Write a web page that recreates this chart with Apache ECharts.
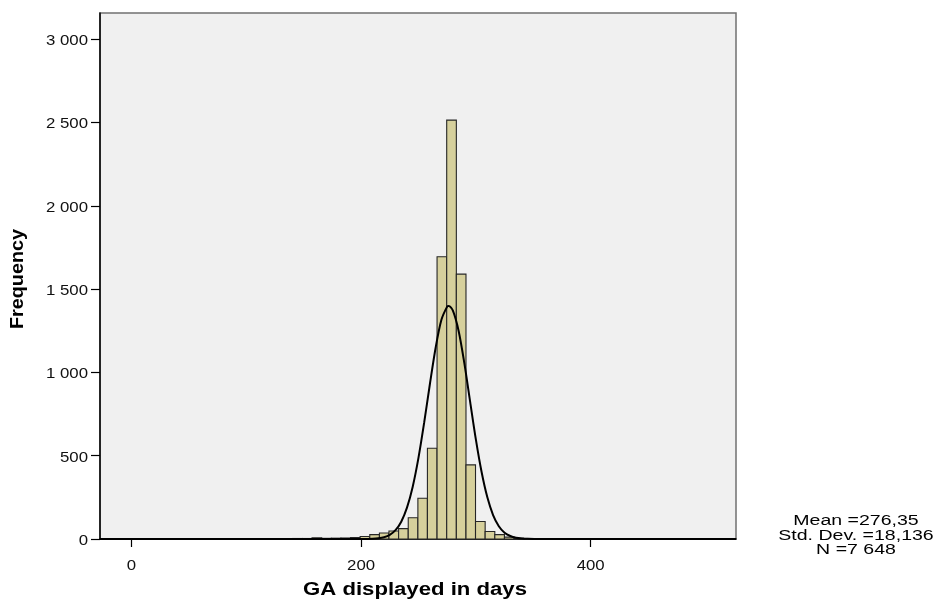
<!DOCTYPE html>
<html>
<head>
<meta charset="utf-8">
<script src="https://cdn.jsdelivr.net/npm/echarts@6/dist/echarts.min.js"></script>
<style>
html,body{margin:0;padding:0;background:#fff;}
#chart{width:938px;height:606px;}
</style>
</head>
<body>
<div id="chart"></div>
<script>
// Histogram bin edges (days) and counts per bin
const binEdges = [56.7, 65.1, 73.5, 81.9, 90.2, 98.6, 107.0, 115.4, 123.8, 132.1, 140.5, 148.9,
  157.3, 165.7, 174.1, 182.4, 190.8, 199.2, 207.6, 216.0, 224.3, 232.7, 241.1, 249.5,
  257.8, 266.2, 274.6, 283.0, 291.4, 299.7, 308.1, 316.5, 324.9, 333.3, 341.6, 350.0, 358.4];
const binCounts = [1, 2, 1, 1, 2, 2, 1, 1, 2, 2, 3, 3,
  7, 4, 5, 6, 9, 15, 26, 36, 48, 62, 128, 245,
  545, 1695, 2515, 1590, 445, 105, 45, 26, 11, 5, 3, 2];

// Fitted normal curve
const curveX = [-27.4, 150, 190, 200, 205, 210, 215, 220, 225, 230, 235, 240, 245, 250, 255, 260, 265, 270, 275, 276.35,
  280, 285, 290, 295, 300, 305, 310, 315, 320, 325, 330, 335, 340, 345, 350, 360, 526.6];
const curveY = [0, 0, 0, 0.2, 0.6, 1.7, 4.6, 11, 25, 53, 104, 188, 314, 487, 700, 932, 1150, 1316, 1395, 1399,
  1371, 1249, 1054, 825, 598, 402, 250, 144, 77, 38, 18, 7.5, 3, 1.1, 0.4, 0, 0];

const xTicks = [0, 200, 400];
const yTicks = [0, 500, 1000, 1500, 2000, 2500, 3000];
const xTitle = 'GA displayed in days';
const yTitle = 'Frequency';
const statsLines = ['Mean =276,35', 'Std. Dev. =18,136', 'N =7 648'];

const histData = binCounts.map((c, i) => [binEdges[i], binEdges[i + 1], c]);
const curveData = curveX.map((x, i) => [x, curveY[i]]);

const fmt = v => String(v).replace(/\B(?=(\d{3})+(?!\d))/g, ' ');
const FONT = 'Liberation Sans, Arial, sans-serif';

const chart = echarts.init(document.getElementById('chart'));
chart.setOption({
  animation: false,
  backgroundColor: '#ffffff',
  grid: {
    left: 100, right: 202, top: 13, bottom: 67,
    show: true, backgroundColor: '#f0f0f0', borderColor: '#707070', borderWidth: 1.5
  },
  xAxis: {
    type: 'value', min: -27.4, max: 526.6,
    axisLine: { show: true, onZero: false, lineStyle: { color: '#000', width: 1.5 } },
    axisTick: { show: true, length: 8, customValues: xTicks, lineStyle: { color: '#000', width: 1.2 } },
    axisLabel: { show: false, customValues: xTicks },
    splitLine: { show: false }
  },
  yAxis: {
    type: 'value', min: 0, max: 3158,
    axisLine: { show: true, onZero: false, lineStyle: { color: '#000', width: 1.5 } },
    axisTick: { show: true, length: 9, customValues: yTicks, lineStyle: { color: '#000', width: 1.2 } },
    axisLabel: { show: false, customValues: yTicks },
    splitLine: { show: false }
  },
  series: [
    {
      type: 'custom',
      data: histData,
      encode: { x: [0, 1], y: 2 },
      renderItem: function (params, api) {
        const p0 = api.coord([api.value(0), api.value(2)]);
        const p1 = api.coord([api.value(1), 0]);
        return {
          type: 'rect',
          shape: { x: p0[0], y: p0[1], width: p1[0] - p0[0], height: p1[1] - p0[1] },
          style: { fill: '#d6d09c', stroke: '#262626', lineWidth: 1.1 }
        };
      },
      z: 2
    },
    {
      type: 'line',
      data: curveData,
      smooth: 0.3,
      showSymbol: false,
      symbol: 'none',
      lineStyle: { color: '#000', width: 2 },
      z: 3
    }
  ]
});

// Text labels (the reference's text is horizontally stretched), placed through the axes' scales
const toPx = (x, y) => chart.convertToPixel({ xAxisIndex: 0, yAxisIndex: 0 }, [x, y]);
const xMin = -27.4, xMax = 526.6;
const graphics = [];
xTicks.forEach(v => {
  const p = toPx(v, 0);
  graphics.push({ type: 'text', x: p[0], y: p[1] + 20, scaleX: 1.2,
    style: { text: fmt(v), align: 'center', verticalAlign: 'top', fontFamily: FONT, fontSize: 14, fill: '#111' } });
});
yTicks.forEach(v => {
  const p = toPx(xMin, v);
  graphics.push({ type: 'text', x: p[0] - 12, y: p[1] + 2, scaleX: 1.2,
    style: { text: fmt(v), align: 'right', verticalAlign: 'middle', fontFamily: FONT, fontSize: 14, fill: '#111' } });
});
const pb0 = toPx(xMin, 0), pb1 = toPx(xMax, 0), pt = toPx(xMin, 3158);
graphics.push({ type: 'text', x: (pb0[0] + pb1[0]) / 2 - 3, y: pb0[1] + 51, scaleX: 1.23,
  style: { text: xTitle, align: 'center', verticalAlign: 'middle', fontFamily: FONT, fontWeight: 'bold', fontSize: 18, fill: '#000' } });
graphics.push({ type: 'text', x: 18, y: (pb0[1] + pt[1]) / 2 + 3, rotation: Math.PI / 2, scaleX: 1.1,
  style: { text: yTitle, align: 'center', verticalAlign: 'middle', fontFamily: FONT, fontWeight: 'bold', fontSize: 18, fill: '#000' } });
statsLines.forEach((t, i) => {
  graphics.push({ type: 'text', x: 856, y: pb0[1] - 18 + i * 14.5, scaleX: 1.26,
    style: { text: t, align: 'center', verticalAlign: 'middle', fontFamily: FONT, fontSize: 15.5, fill: '#000' } });
});
chart.setOption({ graphic: graphics });
</script>
</body>
</html>
